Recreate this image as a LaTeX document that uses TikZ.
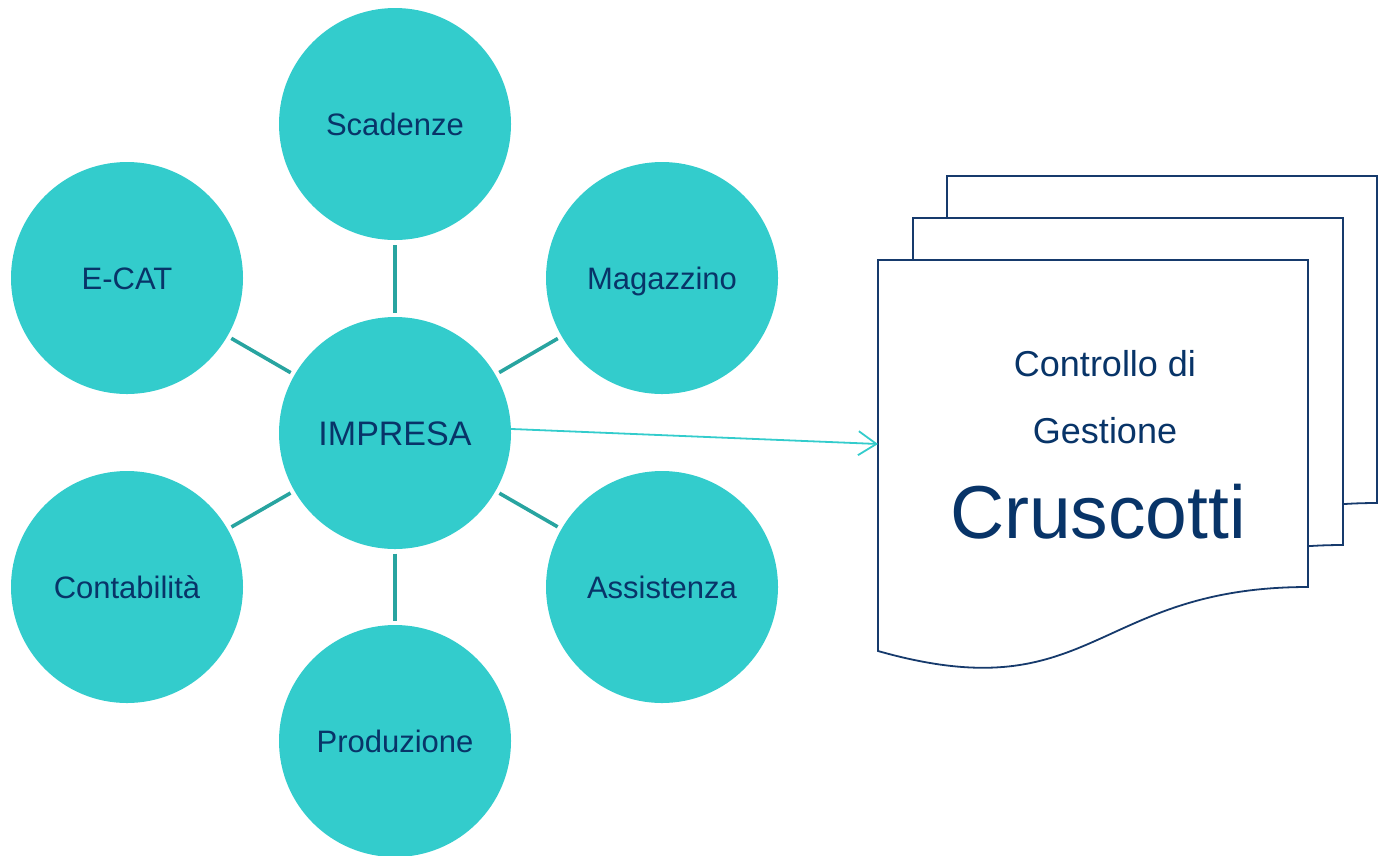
\documentclass[tikz,border=0pt]{standalone}
\usepackage{fontspec}
\setmainfont{Liberation Sans}
\usetikzlibrary{arrows.meta}
\definecolor{bubble}{RGB}{51,204,204}
\definecolor{linkc}{RGB}{40,164,160}
\definecolor{navy}{RGB}{8,52,104}
\definecolor{pageline}{RGB}{22,58,108}
\tikzset{
  bub/.style={circle, fill=bubble, minimum size=232pt, inner sep=0pt, outer sep=0pt,
    text=navy, font=\fontsize{31}{31}\selectfont, text height=22.2pt, text depth=0pt},
  link/.style={draw=linkc, line width=3.6pt, shorten <=4.5pt, shorten >=4.5pt},
  flow/.style={draw=bubble, line width=1.8pt, -{Straight Barb[length=18pt,width=24pt,line width=1.8pt]}},
  docpage/.style={fill=white, draw=pageline, line width=1.8pt, line join=miter},
  doctext/.style={text=navy, inner sep=0pt, text depth=0pt}
}
\newcommand\mydocpage{(878,260) -- (1308,260) -- (1308,587) .. controls (1093,587) and (1093,712) .. (878,651) -- cycle}
\begin{document}
\begin{tikzpicture}[x=1pt,y=-1pt]
\useasboundingbox (0,0) rectangle (1383,855);
\clip (0,0) rectangle (1383,855);
% pages
\begin{scope}[shift={(69,-84)}]
  \path[docpage] \mydocpage;
\end{scope}
\begin{scope}[shift={(35,-42)}]
  \path[docpage] \mydocpage;
\end{scope}
\path[docpage] \mydocpage;
\node[doctext, font=\fontsize{36}{36}\selectfont, text height=25.8pt] (t1) at (1105,364) {Controllo di};
\node[doctext, font=\fontsize{36}{36}\selectfont, text height=25.8pt] (t2) at (1105,431) {Gestione};
\node[doctext, font=\fontsize{75}{75}\selectfont, text height=53.7pt] (t3) at (1098,512) {Cruscotti};
\coordinate (docin) at (878,444);
% bubbles
\node[bub] (scad) at (395,124) {Scadenze};
\node[bub] (ecat) at (127,278) {E-CAT};
\node[bub] (maga) at (662,278) {Magazzino};
\node[bub, font=\fontsize{34}{34}\selectfont, text height=24.3pt] (impr) at (395,433) {IMPRESA};
\node[bub] (cont) at (127,587) {Contabilità};
\node[bub] (assi) at (662,587) {Assistenza};
\node[bub] (prod) at (395,741) {Produzione};
% links
\draw[link] (impr) -- (scad);
\draw[link] (impr) -- (ecat);
\draw[link] (impr) -- (maga);
\draw[link] (impr) -- (cont);
\draw[link] (impr) -- (assi);
\draw[link] (impr) -- (prod);
\draw[flow] (impr.2.5) -- (docin);
\end{tikzpicture}
\end{document}
